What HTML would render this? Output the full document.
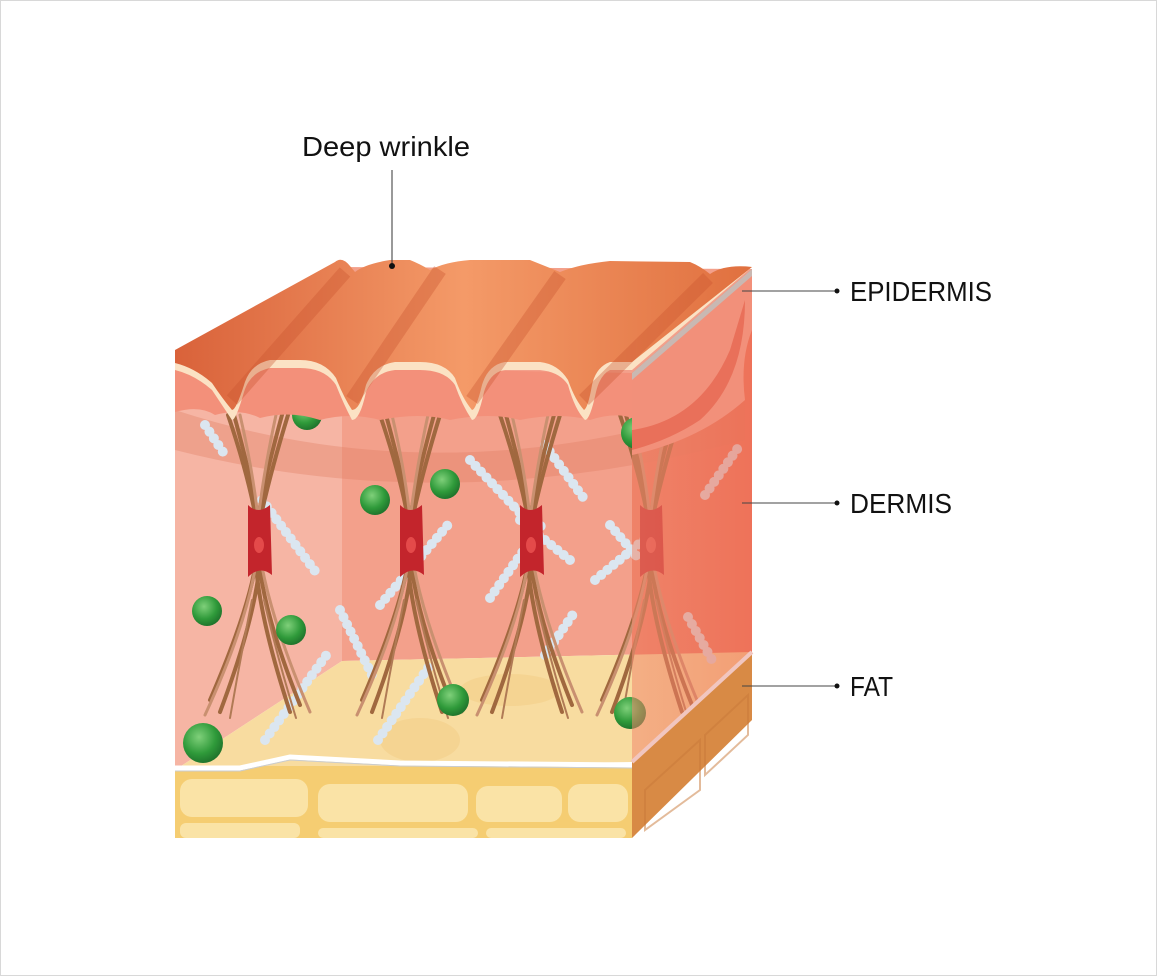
<!DOCTYPE html>
<html><head><meta charset="utf-8"><style>
html,body{margin:0;padding:0;background:#fff}
svg{display:block}
text{font-family:"Liberation Sans Narrow","Liberation Sans",sans-serif;fill:#111}
</style></head><body>
<svg width="1157" height="976" viewBox="0 0 1157 976" xmlns="http://www.w3.org/2000/svg">
<defs>
<linearGradient id="ridge" x1="0" y1="0" x2="1" y2="0">
<stop offset="0" stop-color="#d9623a"/><stop offset="0.5" stop-color="#f49a68"/><stop offset="1" stop-color="#e0703f"/>
</linearGradient>
<radialGradient id="gs" cx="0.4" cy="0.35" r="0.7">
<stop offset="0" stop-color="#7fd07a"/><stop offset="0.6" stop-color="#2f9a3a"/><stop offset="1" stop-color="#1d6e2a"/>
</radialGradient>
<linearGradient id="rf" x1="0" y1="0" x2="1" y2="0">
<stop offset="0" stop-color="#f08a6e"/><stop offset="1" stop-color="#ee6c52"/>
</linearGradient>
</defs>
<rect x="0.5" y="0.5" width="1156" height="975" fill="#fff" stroke="#d8d8d8"/>

<polygon points="175,365 342,267 342,661 175,770" fill="#f6b5a4"/>
<polygon points="342,267 752,269 752,652 342,661" fill="#f3a08b"/>
<polygon points="632,373 752,269 752,652 632,661" fill="#ee7a62"/>
<polygon points="175,770 342,661 752,652 632,762" fill="#f8dca0"/>
<ellipse cx="420" cy="740" rx="40" ry="22" fill="#f3cf88" opacity="0.6"/>
<ellipse cx="510" cy="690" rx="50" ry="16" fill="#f3cf88" opacity="0.6"/>
<path d="M175,410 Q450,500 745,400 L745,440 Q450,520 175,450 Z" fill="#e07a62" opacity="0.35"/>

<g stroke="#dbe6f0" stroke-width="10" stroke-linecap="round" stroke-dasharray="0 8" fill="none">
<path d="M205,425 L225,455"/><path d="M262,500 L318,575"/><path d="M380,605 L452,520"/>
<path d="M470,460 L522,515"/><path d="M545,445 L585,500"/><path d="M490,598 L545,520"/>
<path d="M595,580 L662,525"/><path d="M545,655 L576,610"/><path d="M705,495 L740,445"/>
<path d="M688,617 L712,660"/><path d="M265,740 L330,650"/><path d="M340,610 L372,675"/>
<path d="M378,740 L430,665"/><path d="M610,525 L640,560"/><path d="M520,520 L570,560"/>
</g>

<g fill="none" stroke-linecap="round">
<g id="fx" stroke="#a0683f" stroke-width="4">
<path d="M228,415 Q250,480 258,530 Q262,580 210,700"/>
<path d="M234,415 Q252,480 260,530 Q266,590 220,712"/>
<path d="M288,415 Q268,480 258,530 Q254,590 300,705"/>
<path d="M282,415 Q264,480 256,530 Q250,590 290,712"/>
<path d="M240,415 Q255,480 259,530 Q258,600 205,715" stroke="#c99070" stroke-width="3"/>
<path d="M276,415 Q262,480 257,530 Q262,600 310,712" stroke="#c99070" stroke-width="3"/>
<path d="M252,600 Q240,660 230,718" stroke="#b07a55" stroke-width="2"/>
<path d="M264,600 Q278,660 296,718" stroke="#b07a55" stroke-width="2"/>
</g>
<use href="#fx" x="152"/><use href="#fx" x="272"/><use href="#fx" x="392"/>
</g>
<g fill="#c3252c">
<path d="M248,505 Q258,515 270,505 L272,575 Q260,565 248,577 Z"/>
<path d="M400,505 Q410,515 422,505 L424,575 Q412,565 400,577 Z"/>
<path d="M520,505 Q530,515 542,505 L544,575 Q532,565 520,577 Z"/>
<path d="M640,505 Q650,515 662,505 L664,575 Q652,565 640,577 Z"/>
</g>
<g fill="#e44a4a"><ellipse cx="259" cy="545" rx="5" ry="8"/><ellipse cx="411" cy="545" rx="5" ry="8"/><ellipse cx="531" cy="545" rx="5" ry="8"/><ellipse cx="651" cy="545" rx="5" ry="8"/></g>

<g fill="url(#gs)">
<circle cx="307" cy="415" r="15"/><circle cx="375" cy="500" r="15"/><circle cx="445" cy="484" r="15"/>
<circle cx="637" cy="433" r="16"/><circle cx="207" cy="611" r="15"/><circle cx="291" cy="630" r="15"/>
<circle cx="453" cy="700" r="16"/><circle cx="630" cy="713" r="16"/><circle cx="203" cy="743" r="20"/>
</g>

<rect x="175" y="766" width="457" height="72" fill="#f5cd72"/>
<g fill="#fae3a6" stroke="none">
<rect x="180" y="779" width="128" height="38" rx="12"/><rect x="318" y="784" width="150" height="38" rx="12"/>
<rect x="476" y="786" width="86" height="36" rx="12"/><rect x="568" y="784" width="60" height="38" rx="12"/>
<rect x="180" y="823" width="120" height="15" rx="6"/><rect x="318" y="828" width="160" height="10" rx="5"/>
<rect x="486" y="828" width="140" height="10" rx="5"/>
</g>
<path d="M175,768 L240,768 L290,757 L400,763 L632,765" stroke="#fff" stroke-width="5" fill="none"/>
<path d="M175,771 L240,771 L290,760 L400,766 L632,768" stroke="#c9ccd0" stroke-width="1" fill="none"/>

<polygon points="632,373 752,269 752,652 632,762" fill="url(#rf)" opacity="0.55"/>
<polygon points="632,762 752,652 752,720 632,838" fill="#d88a45"/>
<g fill="none" stroke="#c97a3a" stroke-width="2" opacity="0.5">
<path d="M645,790 L700,740 L700,790 L645,830 Z"/><path d="M705,735 L748,695 L748,735 L705,775 Z"/>
</g>
<path d="M632,762 L752,652" stroke="#f1c6c0" stroke-width="4"/>
<path d="M632,373 L752,269 L752,330 Q740,360 745,400 Q700,440 632,455 Z" fill="#f2907a"/>
<path d="M745,300 Q745,380 700,420 Q670,440 632,450 L632,430 Q700,420 730,350 Z" fill="#e25b44" opacity="0.6"/>
<path d="M632,373 L752,269 L752,276 L632,380 Z" fill="#c9b8b2"/>

<path d="M175,365 L175,412 Q200,405 215,415 Q240,408 260,418 Q290,410 320,420 Q350,412 380,420 Q420,412 450,420 Q490,412 520,420 Q560,412 590,420 Q615,412 632,418 L632,373 Z" fill="#f3907a"/>
<path d="M175,355 L335,268 Q342,262 350,272 L355,278 Q365,270 390,266 L410,266 Q420,270 430,276 Q445,268 470,266 L530,266 Q545,272 560,278 Q580,270 610,267 L690,268 Q700,272 710,280 Q725,270 752,267 L632,370 L610,370 Q600,375 596,392 Q590,420 585,420 Q575,410 568,385 Q560,372 540,370 L505,370 Q490,372 484,392 Q478,420 472,420 Q462,405 455,385 Q445,370 420,370 L395,370 Q375,372 366,392 Q360,420 352,420 Q344,405 336,385 Q325,368 300,368 L270,368 Q250,372 244,392 Q236,420 232,420 Q222,405 212,390 Q195,375 175,370 Z" fill="#fbe2c4"/>
<path d="M175,350 L335,262 Q342,256 350,266 L355,272 Q365,264 390,260 L410,260 Q420,264 430,270 Q445,262 470,260 L530,260 Q545,266 560,272 Q580,264 610,261 L690,262 Q700,266 710,274 Q725,264 752,267 L632,362 L610,362 Q596,367 592,385 Q588,408 584,410 Q575,400 568,380 Q558,364 540,362 L505,362 Q488,365 482,385 Q476,410 472,410 Q462,398 455,378 Q445,362 420,362 L395,362 Q374,365 366,385 Q360,410 352,410 Q344,398 336,378 Q324,360 300,360 L270,360 Q250,364 244,385 Q236,410 232,410 Q222,398 212,383 Q195,368 175,363 Z" fill="url(#ridge)"/>
<g stroke="#c9532e" stroke-width="14" opacity="0.35" fill="none">
<path d="M232,400 L345,272"/><path d="M352,400 L440,270"/><path d="M472,400 L560,275"/><path d="M584,400 L708,278"/>
</g>

<text x="302" y="156" font-size="28" textLength="168" lengthAdjust="spacingAndGlyphs">Deep wrinkle</text>
<line x1="392" y1="170" x2="392" y2="265" stroke="#333" stroke-width="1"/>
<circle cx="392" cy="266" r="3" fill="#111"/>
<line x1="742" y1="291" x2="835" y2="291" stroke="#444" stroke-width="1"/>
<circle cx="837" cy="291" r="2.5" fill="#111"/>
<text x="850" y="301" font-size="28" textLength="142" lengthAdjust="spacingAndGlyphs">EPIDERMIS</text>
<line x1="742" y1="503" x2="835" y2="503" stroke="#444" stroke-width="1"/>
<circle cx="837" cy="503" r="2.5" fill="#111"/>
<text x="850" y="513" font-size="28" textLength="102" lengthAdjust="spacingAndGlyphs">DERMIS</text>
<line x1="742" y1="686" x2="835" y2="686" stroke="#444" stroke-width="1"/>
<circle cx="837" cy="686" r="2.5" fill="#111"/>
<text x="850" y="696" font-size="28" textLength="43" lengthAdjust="spacingAndGlyphs">FAT</text>
</svg>
</body></html>
